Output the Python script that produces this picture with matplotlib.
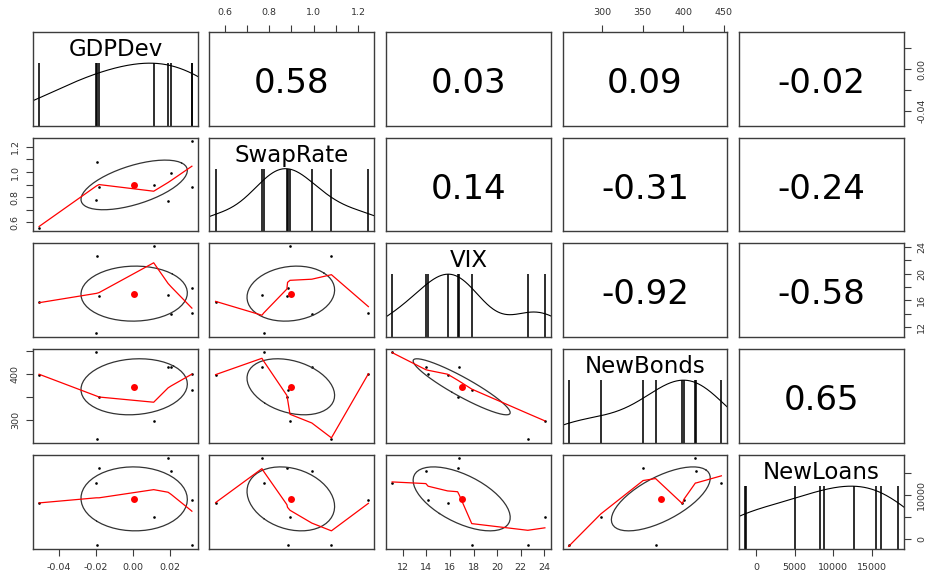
import numpy as np
import matplotlib
matplotlib.use("Agg")
import matplotlib.pyplot as plt
from matplotlib.transforms import blended_transform_factory

names = ["GDPDev", "SwapRate", "VIX", "NewBonds", "NewLoans"]
gdp_dev = [-0.0507, -0.0195, -0.0182, -0.0198, 0.0114, 0.0192, 0.0209, 0.0319, 0.0321]
swap_rate = [0.56, 1.08, 0.88, 0.776, 0.894, 0.768, 0.992, 1.246, 0.883]
vix = [15.8, 22.6, 16.65, 11.1, 24.05, 16.8, 13.96, 14.15, 17.85]
new_bonds = [399, 259, 350.7, 447, 298.5, 415, 416, 401, 366]
new_loans = [8250, -1420, 16200, 12750, 5060, 18400, 15620, 8800, -1320]
data = [gdp_dev, swap_rate, vix, new_bonds, new_loans]

# kernel bandwidths of the diagonal density curves
density_bw = [0.027, 0.11, 2.1, 40, 5000]

# correlations printed in the upper panels
cor_text = {(0, 1): "0.58", (0, 2): "0.03", (0, 3): "0.09", (0, 4): "-0.02",
            (1, 2): "0.14", (1, 3): "-0.31", (1, 4): "-0.24",
            (2, 3): "-0.92", (2, 4): "-0.58", (3, 4): "0.65"}

# outer axes: (row, col, side, ticks, labels)
swap_ticks = [0.6, 0.7, 0.8, 0.9, 1.0, 1.1, 1.2]
vix_ticks = [12, 14, 16, 18, 20, 22, 24]
axes_spec = [
    (0, 1, "top", swap_ticks, ["0.6", "", "0.8", "", "1.0", "", "1.2"]),
    (0, 3, "top", [300, 350, 400, 450], ["300", "350", "400", "450"]),
    (0, 4, "right", [-0.04, -0.02, 0.0, 0.02], ["-0.04", "", "0.00", ""]),
    (1, 0, "left", swap_ticks, ["0.6", "", "0.8", "", "1.0", "", "1.2"]),
    (2, 4, "right", vix_ticks, ["12", "", "16", "", "20", "", "24"]),
    (3, 0, "left", [300, 350, 400, 450], ["300", "", "400", ""]),
    (4, 4, "right", [0, 5000, 10000, 15000], ["0", "", "10000", ""]),
    (4, 0, "bottom", [-0.04, -0.02, 0.0, 0.02], ["-0.04", "-0.02", "0.00", "0.02"]),
    (4, 2, "bottom", vix_ticks, [str(t) for t in vix_ticks]),
    (4, 4, "bottom", [0, 5000, 10000, 15000], ["0", "5000", "10000", "15000"]),
]


def usr(v):
    lo, hi = min(v), max(v)
    pad = 0.04 * (hi - lo)
    return lo - pad, hi + pad


def lowest(x, y, xs, nleft, nright, userw, rw):
    n = len(x)
    rng = x[-1] - x[0]
    h = max(xs - x[nleft], x[nright] - xs)
    h9, h1 = 0.999 * h, 0.001 * h
    w = np.zeros(n)
    a = 0.0
    j = nleft
    while j < n:
        r = abs(x[j] - xs)
        if r <= h9:
            w[j] = 1.0 if r <= h1 else (1 - (r / h) ** 3) ** 3
            if userw:
                w[j] *= rw[j]
            a += w[j]
        elif x[j] > xs:
            break
        j += 1
    nrt = j - 1
    if a <= 0:
        return 0.0, False
    sl = slice(nleft, nrt + 1)
    w[sl] /= a
    if h > 0:
        a = np.sum(w[sl] * x[sl])
        b = xs - a
        c = np.sum(w[sl] * (x[sl] - a) ** 2)
        if np.sqrt(c) > 0.001 * rng:
            b /= c
            w[sl] *= b * (x[sl] - a) + 1
    return np.sum(w[sl] * y[sl]), True


def lowess(x, y, f=2 / 3, nsteps=3):
    # port of R's clowess
    o = np.argsort(x, kind="stable")
    x = np.asarray(x, float)[o]
    y = np.asarray(y, float)[o]
    n = len(x)
    delta = 0.01 * (x[-1] - x[0])
    ns = max(2, min(n, int(f * n + 1e-7)))
    ys = np.zeros(n)
    rw = np.ones(n)
    for it in range(1, nsteps + 2):
        nleft, nright, last, i = 0, ns - 1, -1, 0
        while True:
            if nright < n - 1:
                d1 = x[i] - x[nleft]
                d2 = x[nright + 1] - x[i]
                if d1 > d2:
                    nleft += 1
                    nright += 1
                    continue
            val, ok = lowest(x, y, x[i], nleft, nright, it > 1, rw)
            ys[i] = val if ok else y[i]
            if last < i - 1:
                denom = x[i] - x[last]
                for j in range(last + 1, i):
                    al = (x[j] - x[last]) / denom
                    ys[j] = al * ys[i] + (1 - al) * ys[last]
            last = i
            cut = x[last] + delta
            i = last + 1
            while i < n:
                if x[i] > cut:
                    break
                if x[i] == x[last]:
                    ys[i] = ys[last]
                    last = i
                i += 1
            i = max(last + 1, i - 1)
            if last >= n - 1:
                break
        res = y - ys
        sc = np.mean(np.abs(res))
        if it > nsteps:
            break
        ar = np.abs(res)
        s = np.sort(ar)
        m1 = n // 2
        cmad = 3 * (s[m1] + s[n - m1 - 1]) if n % 2 == 0 else 6 * s[m1]
        if cmad < 1e-7 * sc:
            break
        rw = np.where(ar <= 0.001 * cmad, 1.0,
                      np.where(ar <= 0.999 * cmad, (1 - (ar / cmad) ** 2) ** 2, 0.0))
    return x, ys


def density(v, bw):
    v = np.asarray(v, float)
    gx = np.linspace(v.min() - 3 * bw, v.max() + 3 * bw, 512)
    gy = np.exp(-0.5 * ((gx[:, None] - v[None, :]) / bw) ** 2).sum(1)
    return gx, gy / gy.max()


def ellipse(x, y):
    x = np.asarray(x, float)
    y = np.asarray(y, float)
    r = np.corrcoef(x, y)[0, 1]
    ang = np.arange(52) * 2 * np.pi / 51
    unit = np.column_stack([np.cos(ang), np.sin(ang)])
    th = np.sign(r) / np.sqrt(2) if abs(r) > 0 else 1 / np.sqrt(2)
    shape = np.diag([np.sqrt(1 + r), np.sqrt(1 - r)]) @ np.array([[th, th], [-th, th]])
    e = unit @ shape
    return e[:, 0] * x.std(ddof=1) + x.mean(), e[:, 1] * y.std(ddof=1) + y.mean()


W, H = 929, 581
col_left = [33, 209.5, 386, 562.5, 739]
row_top = [32, 137.5, 243, 349, 455]
pw, ph = 165, 93.5
frame_col = "#3c3c3c"
tick_col = "#333333"

fig = plt.figure(figsize=(W / 100, H / 100), dpi=100)
axs = {}
for i in range(5):
    for j in range(5):
        ax = fig.add_axes([col_left[j] / W, 1 - (row_top[i] + ph) / H, pw / W, ph / H])
        ax.set_xlim(usr(data[j]))
        ax.set_ylim(usr(data[i]))
        ax.set_xticks([])
        ax.set_yticks([])
        for sp in ax.spines.values():
            sp.set_color(frame_col)
            sp.set_linewidth(1.0)
        axs[(i, j)] = ax
        if i == j:
            tr = blended_transform_factory(ax.transData, ax.transAxes)
            ax.vlines(data[i], 0, 1 / 1.5, color="black", lw=1.15, transform=tr)
            gx, gy = density(data[i], density_bw[i])
            ax.plot(gx, gy / 1.5, color="black", lw=0.8, transform=tr)
            ax.text(0.5, 0.74, names[i], transform=ax.transAxes, ha="center",
                    va="baseline", fontsize=16.5, color="black")
        elif i > j:
            x, y = data[j], data[i]
            ax.plot(x, y, "o", ms=1.9, color="black", mew=0)
            ex, ey = ellipse(x, y)
            ax.plot(ex, ey, color="#333333", lw=0.9)
            ax.plot(np.mean(x), np.mean(y), "o", ms=5, color="red", mew=0)
            lx, ly = lowess(x, y)
            ax.plot(lx, ly, color="red", lw=0.9)
        else:
            ax.text(0.5, 0.345, cor_text[(i, j)], transform=ax.transAxes,
                    ha="center", va="baseline", fontsize=24.5, color="black")

for i, j, side, ticks, labels in axes_spec:
    ax = axs[(i, j)]
    kw = dict(direction="out", length=5, width=0.8, colors=frame_col,
              labelcolor=tick_col, labelsize=6.8)
    if side in ("top", "bottom"):
        ax.set_xticks(ticks, labels)
        ax.tick_params(axis="x", top=side == "top", labeltop=side == "top",
                       bottom=side == "bottom", labelbottom=side == "bottom",
                       pad=5.5, **kw)
    else:
        ax.set_yticks(ticks, labels)
        ax.tick_params(axis="y", right=side == "right", labelright=side == "right",
                       left=side == "left", labelleft=side == "left", pad=4.5, **kw)
        for lab in ax.get_yticklabels():
            lab.set_rotation(90)
            lab.set_va("center")

fig.savefig("out.png", dpi=100, facecolor="white")
